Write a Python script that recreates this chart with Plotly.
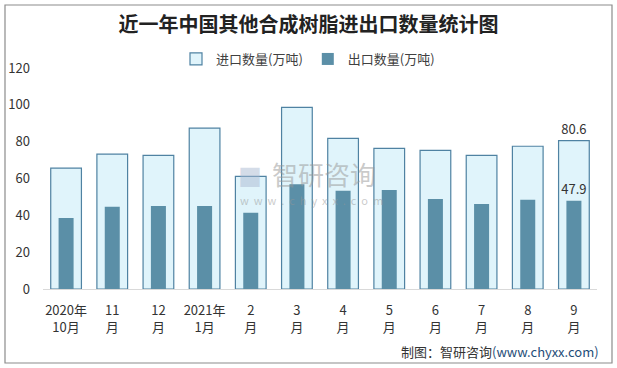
import plotly.graph_objects as go

categories = ["2020年<br>10月", "11<br>月", "12<br>月", "2021年<br>1月", "2<br>月", "3<br>月",
              "4<br>月", "5<br>月", "6<br>月", "7<br>月", "8<br>月", "9<br>月"]
imports = [65.6, 73.2, 72.6, 87.3, 61.2, 98.6, 81.8, 76.4, 75.3, 72.6, 77.5, 80.6]
exports = [38.6, 44.6, 45.1, 45.1, 41.4, 56.9, 53.3, 53.8, 48.9, 46.2, 48.4, 47.9]
y_ticks = [0, 20, 40, 60, 80, 100, 120]

FONT = "Noto Sans CJK SC"
W, H = 617, 368
ML, MR, MT, MB = 43, 20, 68, 79
PW, PH = W - ML - MR, H - MT - MB

def px(x):
    return (x - ML) / PW

def py(y):
    return (H - MB - y) / PH

imp_text = [""] * (len(imports) - 1) + [f"{imports[-1]:.1f}"]
exp_text = [""] * (len(exports) - 1) + [f"{exports[-1]:.1f}"]

fig = go.Figure()
fig.add_trace(go.Bar(
    x=categories, y=imports, name="进口数量(万吨)", width=0.665,
    marker=dict(color="#E0F4FB", line=dict(color="#4F82A2", width=1.2)),
    text=imp_text, textposition="outside", cliponaxis=False, constraintext="none",
    textfont=dict(family=FONT, size=13, color="#333333"),
))
fig.add_trace(go.Bar(
    x=categories, y=exports, name="出口数量(万吨)", width=0.325,
    marker=dict(color="#5B8FA7", line=dict(width=0)),
    text=exp_text, textposition="outside", cliponaxis=False, constraintext="none",
    textfont=dict(family=FONT, size=13, color="#333333"),
))

fig.update_layout(
    width=W, height=H,
    margin=dict(l=ML, r=MR, t=MT, b=MB, autoexpand=False),
    paper_bgcolor="white", plot_bgcolor="white",
    barmode="overlay",
    font=dict(family=FONT, size=13, color="#333333"),
    title=dict(text="<b>近一年中国其他合成树脂进出口数量统计图</b>", x=0.5, xanchor="center",
               y=1 - 25 / H, yanchor="middle",
               font=dict(family=FONT, size=20, color="#222222")),
    legend=dict(orientation="h", x=px(308), xanchor="center", y=py(59), yanchor="middle",
                font=dict(family=FONT, size=13, color="#404040"),
                itemwidth=30, traceorder="normal", bgcolor="rgba(0,0,0,0)"),
    xaxis=dict(showline=True, linecolor="#D9D9D9", linewidth=1, ticks="",
               ticklabelstandoff=9, automargin=False,
               tickfont=dict(family=FONT, size=13, color="#333333"), showgrid=False),
    yaxis=dict(range=[0, 120], tickvals=y_ticks, showgrid=False, zeroline=False,
               showline=False, ticks="", ticklabelstandoff=12, automargin=False,
               tickfont=dict(family=FONT, size=13, color="#333333")),
    showlegend=True,
)

# outer border
fig.add_shape(type="rect", xref="paper", yref="paper",
              x0=px(5), x1=px(612), y0=py(363), y1=py(5),
              line=dict(color="#8C8C8C", width=1.2), fillcolor="rgba(0,0,0,0)", layer="above")

# watermark
fig.add_annotation(xref="paper", yref="paper", x=px(324), y=py(173), showarrow=False,
                   text="智研咨询", font=dict(family=FONT, size=26, color="rgba(150,150,150,0.5)"))
fig.add_annotation(xref="paper", yref="paper", x=px(250), y=py(175), showarrow=False,
                   text="■", font=dict(family=FONT, size=24, color="rgba(170,185,210,0.5)"))
fig.add_annotation(xref="paper", yref="paper", x=px(311), y=py(200), showarrow=False,
                   text="&nbsp;&nbsp;".join("www.chyxx.com"),
                   font=dict(family=FONT, size=11, color="rgba(150,150,150,0.5)"))

# source
fig.add_annotation(xref="paper", yref="paper", x=px(601), y=py(351), xanchor="right",
                   yanchor="middle", showarrow=False,
                   text="制图：智研咨询<span style='color:#1F4E79'>(www.chyxx.com)</span>",
                   font=dict(family=FONT, size=13, color="#333333"))

fig.write_html("out.html", config={"displayModeBar": False},
               post_script="document.body.style.margin='0';")
